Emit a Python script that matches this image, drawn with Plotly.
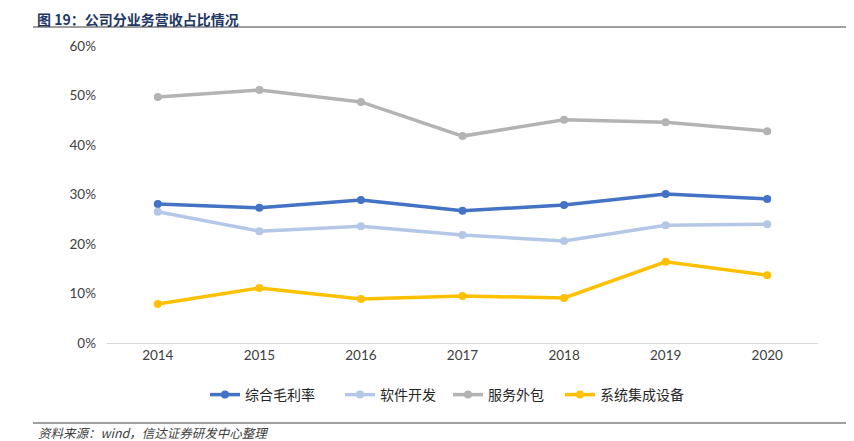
import plotly.graph_objects as go

years = ["2014", "2015", "2016", "2017", "2018", "2019", "2020"]
gross_margin = [0.281, 0.273, 0.289, 0.267, 0.279, 0.301, 0.291]
software_dev = [0.265, 0.226, 0.236, 0.218, 0.206, 0.238, 0.240]
outsourcing = [0.497, 0.511, 0.487, 0.418, 0.451, 0.446, 0.428]
integration = [0.079, 0.111, 0.089, 0.095, 0.091, 0.164, 0.137]

series = [
    ("综合毛利率", gross_margin, "#4472C4"),
    ("软件开发", software_dev, "#B4C7E7"),
    ("服务外包", outsourcing, "#B3B3B3"),
    ("系统集成设备", integration, "#FFC000"),
]
legend_names = ["legend", "legend2", "legend3", "legend4"]
legend_starts = [210, 345, 453, 565]

font_cjk = "Noto Sans CJK SC, sans-serif"
font_num = "Lato, Liberation Sans, sans-serif"

# page has an 8px body margin; figure placed at (8,8)
PW, PH = 711, 297  # plot area size in px
def px(x):
    return (x - 107) / PW
def py(y):
    return (343 - y) / PH

fig = go.Figure()
for (name, vals, color), lg in zip(series, legend_names):
    fig.add_trace(go.Scatter(
        x=years, y=vals, name=name, mode="lines+markers",
        line=dict(color=color, width=3.5),
        marker=dict(color=color, size=8),
        legend=lg,
    ))

legend_style = dict(orientation="h", yanchor="middle", xanchor="left",
                    font=dict(family=font_cjk, size=14, color="#262626"),
                    bgcolor="rgba(0,0,0,0)", borderwidth=0)
legends = {}
for lg, start in zip(legend_names, legend_starts):
    legends[lg] = dict(legend_style, x=px(start - 5), y=py(395))

fig.update_layout(
    width=846, height=433,
    margin=dict(l=99, r=36, t=38, b=98),
    paper_bgcolor="white", plot_bgcolor="white",
    font=dict(family=font_num, size=13, color="#404040"),
    showlegend=True,
    xaxis=dict(range=[-0.5, 6.5], showgrid=False, showline=True, linecolor="#D9D9D9",
               linewidth=1.2, ticks="", tickfont=dict(family=font_num, size=13.5, color="#404040"),
               zeroline=False),
    yaxis=dict(range=[0, 0.6], dtick=0.1, tickformat=".0%", showgrid=False,
               showline=False, zeroline=False, ticks="", ticklen=0, ticklabelstandoff=10,
               tickfont=dict(family=font_num, size=13.5, color="#404040")),
    **legends,
)

# Title and its underline
fig.add_annotation(xref="paper", yref="paper", x=px(35), y=py(18.5),
                   xanchor="left", yanchor="middle", showarrow=False,
                   text="<b>图 19：公司分业务营收占比情况</b>",
                   font=dict(family=font_cjk, size=14, color="#1F3864"))
fig.add_shape(type="line", xref="paper", yref="paper",
              x0=px(33), x1=px(853), y0=py(27), y1=py(27),
              line=dict(color="#7F7F7F", width=1.5))

# Footer line and source text
fig.add_shape(type="line", xref="paper", yref="paper",
              x0=px(33), x1=px(854), y0=py(423), y1=py(423),
              line=dict(color="#404040", width=1))
fig.add_annotation(xref="paper", yref="paper", x=px(36), y=py(432),
                   xanchor="left", yanchor="middle", showarrow=False,
                   text="<i>资料来源：wind，信达证券研发中心整理</i>",
                   font=dict(family=font_cjk, size=12.5, color="#404040"))

fig.write_html("out.html")
